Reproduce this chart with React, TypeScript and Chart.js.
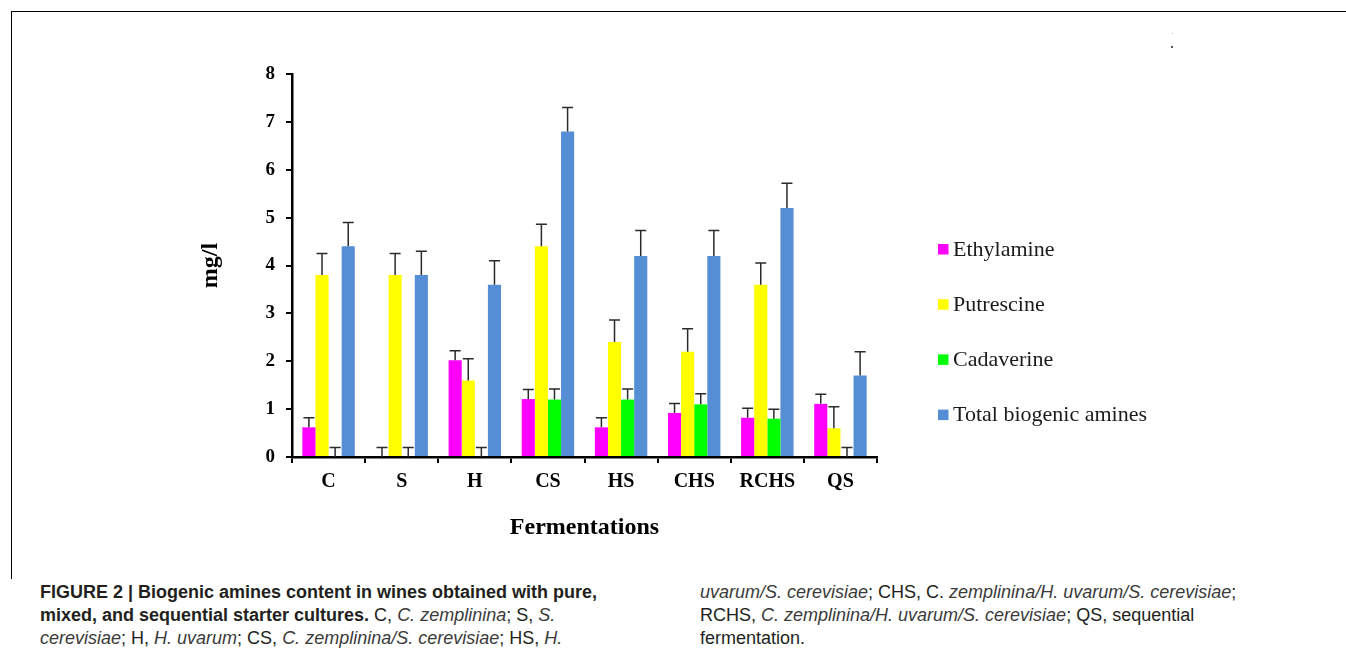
import React, { useEffect, useRef } from "react";
import { Chart, registerables } from "chart.js";

Chart.register(...registerables);

const categories = ["C", "S", "H", "CS", "HS", "CHS", "RCHS", "QS"];
const ethylamine = [0.62, 0, 2.02, 1.21, 0.62, 0.92, 0.82, 1.11];
const putrescine = [3.8, 3.8, 1.6, 4.4, 2.4, 2.2, 3.6, 0.6];
const cadaverine = [0, 0, 0, 1.2, 1.2, 1.1, 0.8, 0];
const totalAmines = [4.4, 3.8, 3.6, 6.8, 4.2, 4.2, 5.2, 1.7];
const ethylamineErr = [0.2, 0.2, 0.2, 0.2, 0.2, 0.2, 0.2, 0.2];
const putrescineErr = [0.45, 0.45, 0.45, 0.46, 0.46, 0.48, 0.45, 0.45];
const cadaverineErr = [0.2, 0.2, 0.2, 0.22, 0.22, 0.22, 0.2, 0.2];
const totalErr = [0.5, 0.5, 0.5, 0.5, 0.53, 0.53, 0.52, 0.5];
const seriesNames = ["Ethylamine", "Putrescine", "Cadaverine", "Total biogenic amines"];
const yTicks = [0, 1, 2, 3, 4, 5, 6, 7, 8];

const SERIF = '"Liberation Serif", "Times New Roman", serif';

const errorBarPlugin = {
  id: "errorBars",
  afterDatasetsDraw(chart: any) {
    const ctx = chart.ctx;
    const yScale = chart.scales.y;
    ctx.save();
    ctx.strokeStyle = "#2b2b2b";
    ctx.lineWidth = 1.5;
    chart.data.datasets.forEach((ds: any, di: number) => {
      const meta = chart.getDatasetMeta(di);
      const errs = ds.errors || [];
      meta.data.forEach((bar: any, i: number) => {
        const v = ds.data[i];
        const e = errs[i];
        if (e == null) return;
        const yTop = yScale.getPixelForValue(v + e);
        const yBase = yScale.getPixelForValue(v);
        const x = bar.x;
        ctx.beginPath();
        ctx.moveTo(x, yBase);
        ctx.lineTo(x, yTop);
        ctx.moveTo(x - 5.5, yTop);
        ctx.lineTo(x + 5.5, yTop);
        ctx.stroke();
      });
    });
    ctx.restore();
  },
};

const legendPlugin = {
  id: "sideLegend",
  afterDraw(chart: any) {
    const ctx = chart.ctx;
    ctx.save();
    const x0 = 938;
    const yStart = 249.3;
    const gap = 55.2;
    chart.data.datasets.forEach((ds: any, i: number) => {
      const y = yStart + i * gap;
      ctx.fillStyle = ds.backgroundColor;
      ctx.fillRect(x0, y - 5.3, 10.5, 10.5);
      ctx.fillStyle = "#1a1a1a";
      ctx.font = `22px ${SERIF}`;
      ctx.textBaseline = "middle";
      ctx.textAlign = "left";
      ctx.fillText(ds.label, x0 + 15, y + 0.5);
    });
    ctx.restore();
  },
};

function ChartCanvas() {
  const ref = useRef<HTMLCanvasElement | null>(null);
  useEffect(() => {
    if (!ref.current) return;
    const colors = ["#FF00FF", "#FFFF00", "#00FF00", "#558ED5"];
    const values = [ethylamine, putrescine, cadaverine, totalAmines];
    const errs = [ethylamineErr, putrescineErr, cadaverineErr, totalErr];
    const chart = new Chart(ref.current, {
      type: "bar",
      data: {
        labels: categories,
        datasets: seriesNames.map((name, i) => ({
          label: name,
          data: values[i],
          errors: errs[i],
          backgroundColor: colors[i],
          borderWidth: 0,
          barPercentage: 1,
          categoryPercentage: 0.717,
        })) as any,
      },
      options: {
        responsive: false,
        animation: false,
        devicePixelRatio: 1,
        layout: { padding: { left: 180, right: 469, top: 74, bottom: 13 } },
        plugins: {
          legend: { display: false },
          tooltip: { enabled: false },
        },
        scales: {
          x: {
            afterFit: (s: any) => {
              s.height = 90;
            },
            grid: {
              offset: true,
              drawOnChartArea: false,
              drawTicks: true,
              tickLength: 6,
              color: "#000",
              lineWidth: 2,
            },
            border: { display: true, color: "#000", width: 2.5 },
            ticks: {
              color: "#000",
              padding: 7,
              font: { family: SERIF, size: 20, weight: "bold" },
            },
            title: {
              display: true,
              text: "Fermentations",
              color: "#000",
              font: { family: SERIF, size: 24, weight: "bold" },
              padding: { top: 0, bottom: 4.6 },
            },
          },
          y: {
            min: 0,
            max: 8,
            afterFit: (s: any) => {
              s.width = 112;
            },
            afterBuildTicks: (s: any) => {
              s.ticks = yTicks.map((v) => ({ value: v }));
            },
            grid: {
              drawOnChartArea: false,
              drawTicks: true,
              tickLength: 6,
              color: "#000",
              lineWidth: 2,
            },
            border: { display: true, color: "#000", width: 2.5 },
            ticks: {
              color: "#000",
              padding: 11,
              font: { family: SERIF, size: 19, weight: "bold" },
            },
            title: {
              display: true,
              text: "mg/l",
              color: "#000",
              font: { family: SERIF, size: 24, weight: "bold" },
              padding: { top: 16.6, bottom: 0 },
            },
          },
        },
      } as any,
      plugins: [errorBarPlugin, legendPlugin],
    });
    return () => chart.destroy();
  }, []);
  return (
    <canvas
      ref={ref}
      width={1346}
      height={560}
      style={{ position: "absolute", left: 0, top: 0, width: 1346, height: 560 }}
    />
  );
}

const SANS = '"Liberation Sans", Arial, Helvetica, sans-serif';

export default function App() {
  const lineStyle = (left: number, top: number): React.CSSProperties => ({
    position: "absolute",
    left,
    top,
    whiteSpace: "nowrap",
    fontFamily: SANS,
    fontSize: 18,
    lineHeight: "20px",
    color: "#231f20",
  });
  const it: React.CSSProperties = { fontStyle: "italic", color: "#3a3a3a" };
  return (
    <div
      style={{
        position: "absolute",
        left: 0,
        top: 0,
        width: 1346,
        height: 656,
        background: "#fff",
        overflow: "hidden",
      }}
    >
      <div
        style={{
          position: "absolute",
          left: 11,
          top: 11,
          width: 1340,
          height: 567,
          borderTop: "1.5px solid #000",
          borderLeft: "1.5px solid #000",
        }}
      />
      <div style={{ position: "absolute", left: 1171, top: 46, width: 2, height: 2, background: "#555" }} />
      <div style={{ position: "absolute", left: 1172, top: 33, width: 1, height: 1, background: "#bbb" }} />
      <ChartCanvas />
      <div style={lineStyle(40, 582)}>
        <b>FIGURE 2 | Biogenic amines content in wines obtained with pure,</b>
      </div>
      <div style={lineStyle(40, 605)}>
        <b>mixed, and sequential starter cultures.</b> C, <span style={it}>C. zemplinina</span>; S,{" "}
        <span style={it}>S.</span>
      </div>
      <div style={lineStyle(40, 628)}>
        <span style={it}>cerevisiae</span>; H, <span style={it}>H. uvarum</span>; CS,{" "}
        <span style={it}>C. zemplinina/S. cerevisiae</span>; HS, <span style={it}>H.</span>
      </div>
      <div style={lineStyle(700, 582)}>
        <span style={it}>uvarum/S. cerevisiae</span>; CHS, C. <span style={it}>zemplinina/H. uvarum/S. cerevisiae</span>;
      </div>
      <div style={lineStyle(700, 605)}>
        RCHS, <span style={it}>C. zemplinina/H. uvarum/S. cerevisiae</span>; QS, sequential
      </div>
      <div style={lineStyle(700, 628)}>fermentation.</div>
    </div>
  );
}
